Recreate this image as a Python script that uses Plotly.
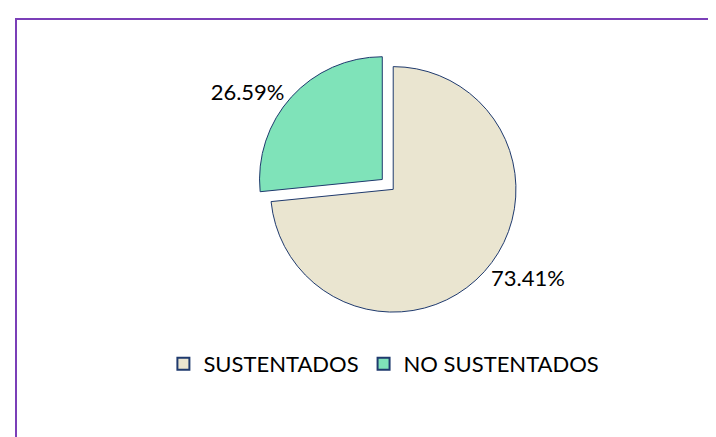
import plotly.graph_objects as go

labels = ["SUSTENTADOS", "NO SUSTENTADOS"]
values = [73.41, 26.59]
colors = ["#EAE5D0", "#7FE3B9"]
pulls = [0, 0.12]

W, H = 716, 437

fig = go.Figure()
fig.add_trace(go.Pie(
    labels=labels,
    values=values,
    sort=False,
    direction="clockwise",
    rotation=0,
    pull=pulls,
    marker=dict(colors=colors, line=dict(color="#1F3A6E", width=1)),
    texttemplate="%{percent:.2%}",
    textposition="outside",
    textfont=dict(family="Lato", size=22, color="#000000"),
    domain=dict(x=[0.346, 0.730], y=[0.27, 0.90]),
    showlegend=True,
    hoverinfo="label+percent",
))

fig.add_shape(type="rect", xref="paper", yref="paper",
              x0=8 / W, x1=1.02, y0=-0.05, y1=1 - 11 / H,
              line=dict(color="#7B3FB8", width=2), fillcolor="rgba(0,0,0,0)")

fig.update_layout(
    width=W, height=H,
    margin=dict(l=0, r=0, t=0, b=0),
    paper_bgcolor="white",
    plot_bgcolor="white",
    font=dict(family="Lato", size=22, color="#000000"),
    legend=dict(orientation="h", x=0.525, xanchor="center", y=1 - 356 / H, yanchor="middle",
                font=dict(family="Lato", size=22, color="#000000"),
                itemsizing="constant", traceorder="normal", itemwidth=30),
)

fig.write_html("out.html")
